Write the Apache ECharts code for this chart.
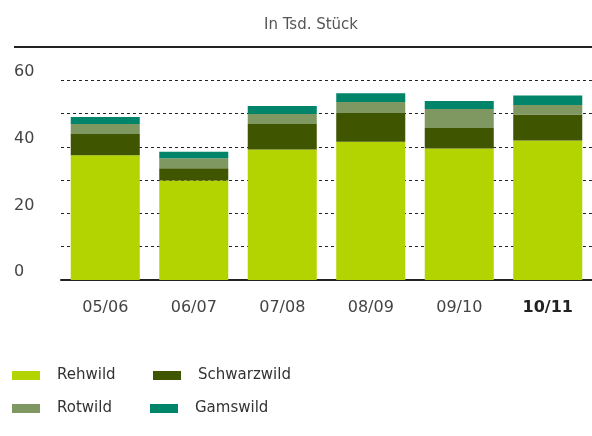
<!DOCTYPE html>
<html><head><meta charset="utf-8">
<script src="https://cdn.jsdelivr.net/npm/echarts@6/dist/echarts.min.js"></script>
<style>html,body{margin:0;padding:0;background:#fff}#c{width:592px;height:436px}</style>
</head><body><div id="c"></div>
<script>
var categories = ['05/06','06/07','07/08','08/09','09/10','10/11'];
var rehwild = [37.5, 29.9, 39.2, 41.5, 39.5, 41.9];
var schwarzwild = [6.4, 3.7, 7.7, 8.7, 6.2, 7.8];
var rotwild = [3.0, 3.0, 3.0, 3.3, 5.7, 2.9];
var gamswild = [2.1, 1.9, 2.4, 2.6, 2.4, 2.8];
var yTickLabels = [0, 20, 40, 60];
var titleText = 'In Tsd. Stück';

var colors = {Rehwild:'#b3d400', Schwarzwild:'#3f5500', Rotwild:'#7f9862', Gamswild:'#00856a'};
var font = '"DejaVu Sans", Roboto, sans-serif';
var chart = echarts.init(document.getElementById('c'), null, {renderer:'canvas'});
function ser(name, data){
  return {name:name, type:'bar', stack:'a', data:data, barCategoryGap:'22%',
    itemStyle:{color:colors[name]}, emphasis:{disabled:true}};
}
function leg(name, left, top){
  return {data:[name], left:left, top:top, itemWidth:28, itemHeight:9, padding:0,
    icon:'rect', selectedMode:false,
    textStyle:{fontSize:15, color:'#333', fontFamily:font, padding:[0,0,0,12]}};
}
chart.setOption({
  animation:false,
  title:{text:titleText, left:306, top:13, textAlign:'center',
    textStyle:{fontSize:15, fontWeight:'normal', color:'#555', fontFamily:font}},
  grid:{left:61, right:0, top:47, bottom:156},
  legend:[leg('Rehwild',12,368), leg('Schwarzwild',153,368), leg('Rotwild',12,401), leg('Gamswild',150,401)],
  xAxis:{type:'category', data:categories,
    axisLine:{lineStyle:{color:'#222', width:2}}, axisTick:{show:false},
    axisLabel:{interval:0, hideOverlap:false, margin:20, fontSize:16, color:'#444', fontFamily:font,
      formatter:function(v, i){ return i === categories.length-1 ? '{b|'+v+'}' : v; },
      rich:{b:{fontWeight:'bold', fontSize:16, color:'#222', fontFamily:font}}}},
  yAxis:{type:'value', min:0, max:70, interval:10,
    axisLine:{show:false}, axisTick:{show:false},
    splitLine:{lineStyle:{color:'#222', type:[3,3], width:1}},
    axisLabel:{align:'left', margin:47, verticalAlign:'bottom', fontSize:16, color:'#444', fontFamily:font,
      formatter:function(v){ return yTickLabels.indexOf(v) >= 0 ? String(v) : ''; }}},
  graphic:[{type:'line', shape:{x1:14, y1:47, x2:592, y2:47}, style:{stroke:'#222', lineWidth:2}, z:100}],
  series:[ser('Rehwild', rehwild), ser('Schwarzwild', schwarzwild), ser('Rotwild', rotwild), ser('Gamswild', gamswild)]
});
</script></body></html>
